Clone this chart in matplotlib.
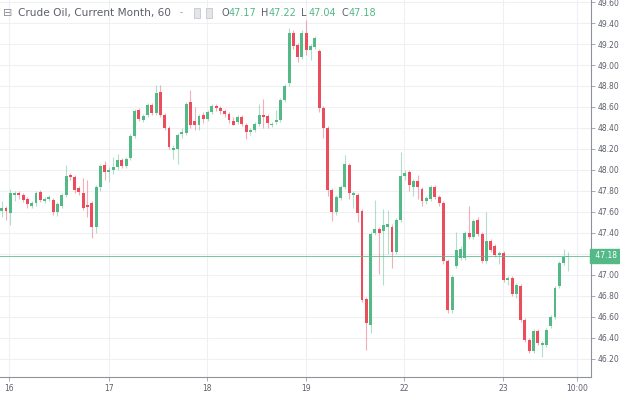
import matplotlib
matplotlib.use("Agg")
import matplotlib.pyplot as plt
import matplotlib.transforms as mtransforms
import numpy as np

# hourly candles (open, high, low, close)
opens = [47.61, 47.64, 47.59, 47.76, 47.78, 47.76, 47.72, 47.66, 47.68, 47.79,
         47.70, 47.72, 47.71, 47.60, 47.66, 47.76, 47.95, 47.93, 47.83, 47.78,
         47.66, 47.68, 47.46, 47.84, 48.05, 47.98, 48.00, 48.03, 48.09, 48.04,
         48.11, 48.32, 48.57, 48.48, 48.52, 48.62, 48.54, 48.74, 48.52, 48.40,
         48.19, 48.20, 48.34, 48.35, 48.65, 48.47, 48.43, 48.52, 48.49, 48.55,
         48.61, 48.59, 48.56, 48.53, 48.47, 48.46, 48.50, 48.43, 48.36, 48.38,
         48.44, 48.52, 48.51, 48.43, 48.46, 48.48, 48.67, 48.83, 49.31, 49.19,
         49.08, 49.31, 49.14, 49.17, 49.13, 48.59, 48.40, 47.81, 47.60, 47.73,
         47.84, 48.05, 47.76, 47.76, 47.61, 46.77, 46.52, 47.40, 47.44, 47.42,
         47.46, 47.46, 47.22, 47.52, 47.94, 47.98, 47.84, 47.89, 47.82, 47.70,
         47.72, 47.84, 47.74, 47.68, 47.13, 46.66, 47.08, 47.16, 47.16, 47.40,
         47.36, 47.52, 47.39, 47.13, 47.32, 47.27, 47.19, 47.21, 46.95, 46.97,
         46.82, 46.89, 46.57, 46.38, 46.27, 46.46, 46.33, 46.33, 46.51, 46.60,
         46.89, 47.11, 47.17]
highs = [47.70, 47.66, 47.82, 47.80, 47.80, 47.78, 47.74, 47.70, 47.80, 47.81,
         47.74, 47.76, 47.73, 47.69, 47.78, 48.05, 47.97, 47.95, 47.85, 47.92,
         47.90, 47.70, 47.86, 48.06, 48.08, 48.03, 48.12, 48.15, 48.11, 48.12,
         48.34, 48.58, 48.59, 48.53, 48.64, 48.64, 48.81, 48.81, 48.54, 48.42,
         48.24, 48.35, 48.40, 48.65, 48.76, 48.60, 48.53, 48.55, 48.57, 48.63,
         48.63, 48.61, 48.58, 48.55, 48.50, 48.52, 48.52, 48.45, 48.40, 48.46,
         48.63, 48.68, 48.53, 48.46, 48.57, 48.69, 48.82, 49.35, 49.33, 49.21,
         49.33, 49.43, 49.20, 49.28, 49.15, 48.61, 48.42, 47.83, 47.76, 47.86,
         48.14, 48.07, 47.80, 47.78, 47.63, 46.79, 47.41, 47.71, 47.46, 47.63,
         47.62, 47.48, 47.54, 48.17, 48.00, 48.00, 47.91, 47.95, 47.84, 47.75,
         47.86, 47.86, 47.76, 47.70, 47.15, 47.00, 47.41, 47.27, 47.42, 47.66,
         47.53, 47.55, 47.41, 47.60, 47.34, 47.29, 47.23, 47.23, 46.99, 46.99,
         46.92, 46.91, 46.59, 46.40, 46.48, 46.48, 46.37, 46.49, 46.62, 46.89,
         47.13, 47.25, 47.22]
lows = [47.55, 47.52, 47.47, 47.70, 47.72, 47.69, 47.64, 47.64, 47.66, 47.69,
        47.68, 47.70, 47.57, 47.56, 47.64, 47.74, 47.90, 47.78, 47.76, 47.62,
        47.55, 47.35, 47.40, 47.80, 47.90, 47.88, 47.96, 48.00, 48.02, 48.02,
        48.09, 48.30, 48.47, 48.46, 48.50, 48.52, 48.52, 48.50, 48.38, 48.20,
        48.10, 48.06, 48.30, 48.33, 48.40, 48.38, 48.38, 48.45, 48.47, 48.53,
        48.56, 48.53, 48.50, 48.45, 48.43, 48.44, 48.42, 48.29, 48.33, 48.36,
        48.42, 48.40, 48.40, 48.41, 48.44, 48.46, 48.65, 48.80, 49.15, 49.03,
        49.06, 49.10, 49.05, 49.15, 48.55, 48.30, 47.75, 47.51, 47.57, 47.71,
        47.82, 47.72, 47.64, 47.50, 46.74, 46.28, 46.44, 47.38, 47.01, 46.90,
        47.20, 47.06, 47.20, 47.50, 47.90, 47.80, 47.75, 47.72, 47.66, 47.67,
        47.70, 47.72, 47.66, 47.10, 46.64, 46.64, 47.06, 47.14, 47.14, 47.34,
        47.34, 47.37, 47.11, 47.11, 47.22, 47.17, 47.10, 46.93, 46.90, 46.80,
        46.78, 46.55, 46.36, 46.25, 46.25, 46.33, 46.22, 46.31, 46.49, 46.58,
        46.87, 47.09, 47.04]
closes = [47.64, 47.61, 47.78, 47.78, 47.76, 47.71, 47.67, 47.68, 47.78, 47.71,
          47.72, 47.74, 47.60, 47.67, 47.76, 47.94, 47.93, 47.81, 47.79, 47.64,
          47.65, 47.46, 47.84, 48.04, 47.98, 48.00, 48.03, 48.09, 48.04, 48.10,
          48.32, 48.56, 48.49, 48.51, 48.62, 48.54, 48.73, 48.52, 48.40, 48.22,
          48.21, 48.33, 48.36, 48.63, 48.43, 48.43, 48.51, 48.49, 48.55, 48.61,
          48.59, 48.56, 48.53, 48.48, 48.43, 48.50, 48.44, 48.36, 48.38, 48.44,
          48.52, 48.50, 48.45, 48.44, 48.48, 48.67, 48.80, 49.31, 49.18, 49.08,
          49.31, 49.14, 49.18, 49.26, 48.59, 48.40, 47.81, 47.60, 47.74, 47.84,
          48.06, 47.78, 47.78, 47.59, 46.76, 46.54, 47.39, 47.44, 47.40, 47.47,
          47.48, 47.22, 47.52, 47.94, 47.97, 47.86, 47.89, 47.84, 47.70, 47.73,
          47.84, 47.74, 47.68, 47.13, 46.66, 46.98, 47.24, 47.25, 47.40, 47.36,
          47.51, 47.39, 47.13, 47.32, 47.24, 47.19, 47.21, 46.95, 46.97, 46.82,
          46.90, 46.57, 46.38, 46.27, 46.46, 46.35, 46.35, 46.47, 46.60, 46.87,
          47.11, 47.17, 47.18]

# day labels and where they fall, in candle units
day_labels = ["16", "17", "18", "19", "22", "23", "10:00"]
day_pos = [1.8, 25.0, 47.9, 70.85, 93.8, 116.9, 134.2]
price_ticks = [46.20, 46.40, 46.60, 46.80, 47.00, 47.20, 47.40, 47.60, 47.80,
               48.00, 48.20, 48.40, 48.60, 48.80, 49.00, 49.20, 49.40, 49.60]
last_price = 47.18
legend_vals = [("O", 47.17), ("H", 47.22), ("L", 47.04), ("C", 47.18)]

UP = "#53b987"
DOWN = "#eb4d5c"
TXT = "#5d606b"


def main():
    o = np.array(opens); h = np.array(highs)
    lo = np.array(lows); c = np.array(closes)
    idx = np.arange(len(o))
    up = c >= o
    colors = np.where(up, UP, DOWN)

    fig = plt.figure(figsize=(6.2, 3.93), dpi=100)
    fig.patch.set_facecolor("white")
    ax = fig.add_axes([0.0, 16 / 393, 591 / 620, 377 / 393])

    # grid
    for p in price_ticks:
        ax.axhline(p, color="#eef0f3", lw=0.8, zorder=0)
    for d in day_pos:
        ax.axvline(d, color="#eef0f3", lw=0.8, zorder=0)

    # wicks then bodies
    ax.vlines(idx, lo, h, colors=colors, lw=0.8, alpha=0.45, zorder=2)
    body = np.maximum(np.abs(c - o), 0.012)
    ax.bar(idx, body, bottom=np.minimum(o, c), width=0.68, color=colors,
           lw=0, zorder=3)

    ax.axhline(last_price, color=UP, lw=0.7, alpha=0.8, zorder=4)

    ax.set_xlim(-0.4, 137.4)
    ax.set_ylim(46.025, 49.62)

    # the last-price tag hides the nearby scale label
    ax.yaxis.tick_right()
    ax.set_yticks(price_ticks)
    ax.set_yticklabels(["" if abs(p - last_price) < 0.1 else f"{p:.2f}"
                        for p in price_ticks])
    ax.tick_params(axis="y", length=3, width=0.6, color="#9b9ea6",
                   labelsize=5.5, labelcolor=TXT, pad=2)
    ax.set_xticks(day_pos)
    ax.set_xticklabels(day_labels)
    ax.tick_params(axis="x", length=3, width=0.6, color="#9b9ea6",
                   labelsize=5.5, labelcolor=TXT, pad=2)

    for side in ["top", "left"]:
        ax.spines[side].set_visible(False)
    for side in ["right", "bottom"]:
        ax.spines[side].set_color("#8f929b")
        ax.spines[side].set_linewidth(0.8)

    # last price tag on the scale
    trans = mtransforms.blended_transform_factory(ax.transAxes, ax.transData)
    ax.text(1.003, last_price, f" {last_price:.2f} ", transform=trans,
            ha="left", va="center", fontsize=5.5, color="white",
            bbox=dict(boxstyle="square,pad=0.35", fc=UP, ec=UP),
            clip_on=False, zorder=6)

    # header legend
    y = 1 - 13 / 393
    fig.text(3 / 620, y, "\u229f", fontsize=8, color="#8a8d96",
             va="center", ha="left")
    fig.text(18 / 620, y, "Crude Oil, Current Month, 60",
             fontsize=7.6, color=TXT, va="center", ha="left")
    fig.text(180 / 620, y, "-", fontsize=6, color="#8a8d96",
             va="center", ha="left")
    for bx in [196, 208]:
        fig.text(bx / 620, y, " ", fontsize=5, va="center", ha="left",
                 bbox=dict(boxstyle="square,pad=0.25", fc="#e3e5e8",
                           ec="#c5c8ce", lw=0.6))
    x = 221
    for lab, val in legend_vals:
        fig.text(x / 620, y, lab, fontsize=7, color=TXT,
                 va="center", ha="left")
        fig.text((x + 7.5) / 620, y, f"{val:.2f}", fontsize=7,
                 color=UP, va="center", ha="left")
        x += 40

    fig.savefig("out.png", dpi=100, facecolor="white")


if __name__ == "__main__":
    main()
